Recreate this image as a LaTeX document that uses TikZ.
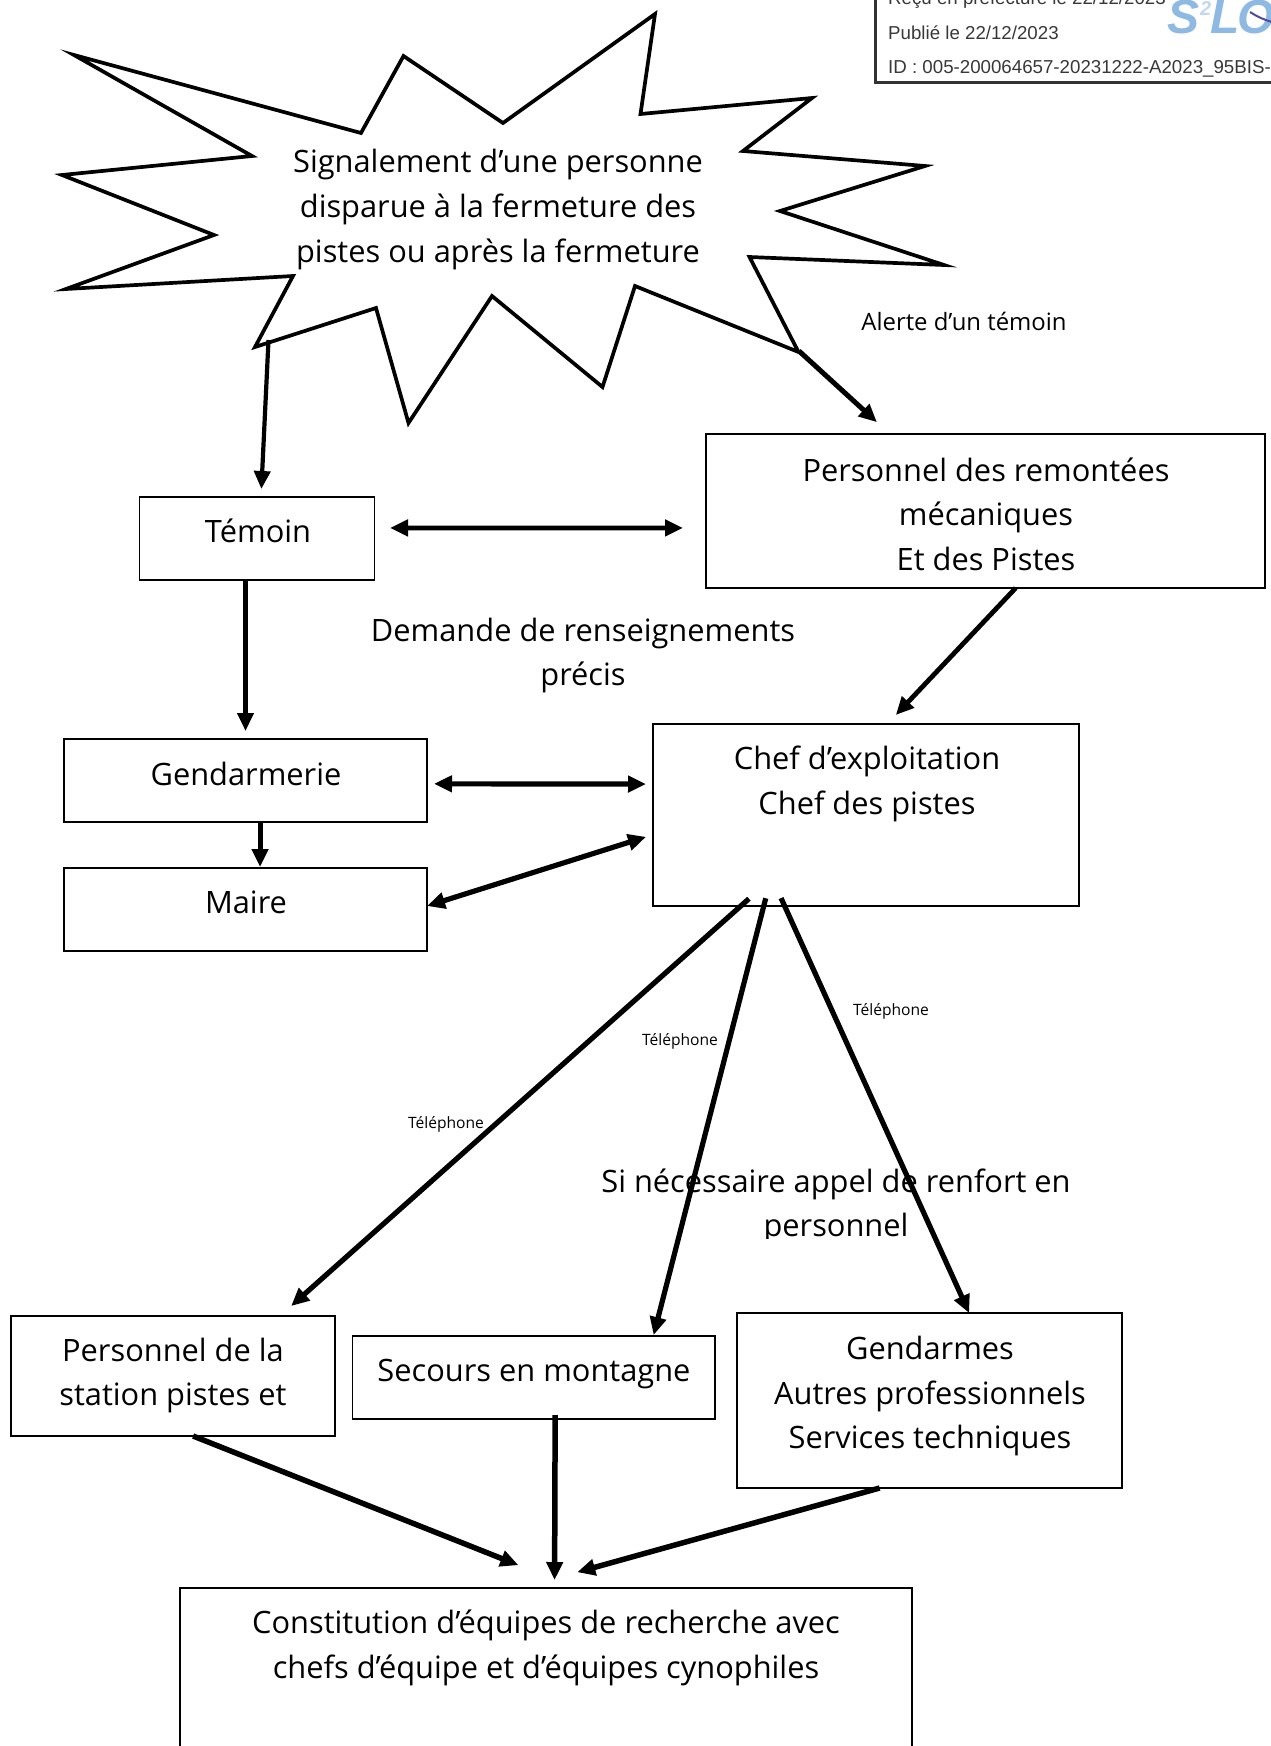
\documentclass[tikz,border=0pt]{standalone}
\usepackage{fontspec}
\setmainfont{Open Sans}
\newfontfamily\stampfont{Liberation Sans}
\usetikzlibrary{arrows.meta,calc}
\tikzset{
  boxnode/.style={draw=black,line width=1.9pt,inner sep=0pt,outer sep=0pt,anchor=north west},
  bigtext/.style={font=\fontsize{30.8}{44.6}\selectfont,align=center,inner sep=0pt},
  midtext/.style={font=\fontsize{23.9}{30}\selectfont,align=center,inner sep=0pt},
  smalltext/.style={font=\fontsize{15.6}{20}\selectfont,inner sep=0pt},
  stamp/.style={font=\stampfont\fontsize{18.7}{22}\selectfont,text=black!78,anchor=base west,inner sep=0pt},
  logotext/.style={font=\stampfont\bfseries\itshape\fontsize{#1}{#1}\selectfont,text=logoblue,anchor=base west,inner sep=0pt},
  starline/.style={draw=black,line width=3.7pt,line join=miter,miter limit=20},
  arr/.style={line width=#1,-{Stealth[length=18pt,width=16pt,inset=0pt]},draw=black},
  arr/.default=4.6pt,
  dbl/.style={line width=#1,{Stealth[length=18pt,width=16pt,inset=0pt]}-{Stealth[length=18pt,width=16pt,inset=0pt]},draw=black},
  dbl/.default=4.6pt
}
\definecolor{logoblue}{HTML}{8DB9E3}
\begin{document}
\begin{tikzpicture}[x=1pt,y=-1pt]
\useasboundingbox (0,0) rectangle (1271,1746);
\clip (0,0) rectangle (1271,1746);

% stamp
\node (stampbox) [draw=black!80,line width=3pt,inner sep=0pt,outer sep=0pt,anchor=south west,minimum width=420pt,minimum height=120pt] at (875.5,82) {};
\node (recu) [stamp] at (888,4) {Reçu en préfecture le 22/12/2023};
\node (publie) [stamp] at (888,39) {Publié le 22/12/2023};
\node (idline) [stamp] at (888,73) {ID : 005-200064657-20231222-A2023\_95BIS-};
\node (logoS) [logotext=48] at (1167,33) {S};
\node (logotwo) [logotext=20,text=logoblue!55] at (1200,15) {2};
\node (logoL) [logotext=48] at (1210,33) {L};
\node (logoO) [logotext=48] at (1237,33) {O};
\coordinate (swooshA) at (1250,12);
\coordinate (swooshB) at (1272,22);
\draw[draw=blue!45!black!70,line width=2pt] (swooshA) to[bend right=8] (swooshB);

% star
\coordinate (s1) at (74,55);
\coordinate (s2) at (361,133);
\coordinate (s3) at (403.5,56);
\coordinate (s4) at (503,123);
\coordinate (s5) at (655,14);
\coordinate (s6) at (640.5,114);
\coordinate (s7) at (812,98);
\coordinate (s8) at (743,151);
\coordinate (s9) at (925,166);
\coordinate (s10) at (780,211);
\coordinate (s11) at (944,265);
\coordinate (s12) at (749.5,257);
\coordinate (s13) at (798.5,352);
\coordinate (s14) at (635,286);
\coordinate (s15) at (602.5,387);
\coordinate (s16) at (492,296);
\coordinate (s17) at (408.5,423);
\coordinate (s18) at (376,308);
\coordinate (s19) at (255,347);
\coordinate (s20) at (293,276);
\coordinate (s21) at (66,289);
\coordinate (s22) at (214,235);
\coordinate (s23) at (62,175);
\coordinate (s24) at (252,156);
\draw[starline] (s1)--(s2)--(s3)--(s4)--(s5)--(s6)--(s7)--(s8)--(s9)--(s10)--(s11)--(s12)--(s13)--(s14)--(s15)--(s16)--(s17)--(s18)--(s19)--(s20)--(s21)--(s22)--(s23)--(s24)--cycle;
\coordinate (starL) at (268.5,340);
\coordinate (starR) at (799,351);
\node (signal) [bigtext] at (498,209.5) {Signalement d’une personne\\disparue à la fermeture des\\pistes ou après la fermeture};
\node (alerte) [midtext] at (964,321) {Alerte d’un témoin};

% boxes
\node (temoin) [boxnode,minimum width=235pt,minimum height=83pt] at (139.5,497) {};
\node (perso) [boxnode,minimum width=559pt,minimum height=154pt] at (706,434) {};
\node (gend) [boxnode,minimum width=363pt,minimum height=83pt] at (64,739) {};
\node (maire) [boxnode,minimum width=363pt,minimum height=83pt] at (64,868) {};
\node (chef) [boxnode,minimum width=426pt,minimum height=182pt] at (653,724) {};
\node (stat) [boxnode,minimum width=324pt,minimum height=120pt] at (11,1316) {};
\node (secours) [boxnode,minimum width=362.5pt,minimum height=83pt] at (352.5,1336) {};
\node (gendarmes) [boxnode,minimum width=385pt,minimum height=175pt] at (737,1313) {};
\node (constit) [boxnode,minimum width=732pt,minimum height=200pt] at (180,1588) {};

% box texts
\node (temoinT) [bigtext] at (258,531) {Témoin};
\node (persoT) [bigtext] at (986,514) {Personnel des remontées\\mécaniques\\Et des Pistes};
\node (demande) [bigtext] at (583,655.5) {Demande de renseignements\\précis};
\node (gendT) [bigtext] at (246,774) {Gendarmerie};
\node (chefT) [bigtext] at (867,784) {Chef d’exploitation\\Chef des pistes};
\node (maireT) [bigtext] at (246,902) {Maire};
\node (statT) [bigtext] at (173,1375.5) {Personnel de la\\station pistes et};
\node (secoursT) [bigtext] at (534,1374) {Secours en montagne};
\node (gendarmesT) [bigtext] at (930,1396) {Gendarmes\\Autres professionnels\\Services techniques};
\node (constitT) [bigtext] at (546,1648) {Constitution d’équipes de recherche avec\\chefs d’équipe et d’équipes cynophiles};
\begin{scope}
\clip (500,1150) rectangle (1200,1238);
\node (renfort) [bigtext] at (836,1206.5) {Si nécessaire appel de renfort en\\personnel};
\end{scope}
\node (tel1) [smalltext] at (446,1124.5) {Téléphone};
\node (tel2) [smalltext] at (680,1041.5) {Téléphone};
\node (tel3) [smalltext] at (891,1011.5) {Téléphone};

% connectors
\draw[arr=4.2pt,shorten >=8pt] (starL) -- ($(temoin.north west)!.517!(temoin.north east)$);
\draw[arr=5pt,shorten >=17.6pt] (starR) -- ($(perso.north west)!.329!(perso.north east)$);
\draw[dbl=4.8pt,shorten <=15.5pt,shorten >=23pt] ($(temoin.north east)!.373!(temoin.south east)$) -- ($(perso.north west)!.61!(perso.south west)$);
\draw[arr=4.8pt,shorten >=8pt] ($(temoin.south west)!.451!(temoin.south east)$) -- ($(gend.north west)!.5!(gend.north east)$);
\draw[arr=4.8pt,shorten >=12.4pt] ($(perso.south west)!.554!(perso.south east)$) -- ($(chef.north west)!.55!(chef.north east)$);
\draw[dbl=5.2pt,shorten <=7pt,shorten >=7pt] ($(gend.north east)!.54!(gend.south east)$) -- ($(chef.north west)!.33!(chef.south west)$);
\draw[arr=5pt,shorten >=1pt] ($(gend.south west)!.54!(gend.south east)$) -- ($(maire.north west)!.54!(maire.north east)$);
\draw[dbl=5.2pt,shorten >=7.3pt] ($(maire.north east)!.458!(maire.south east)$) -- ($(chef.north west)!.608!(chef.south west)$);
\draw[arr=5.2pt,shorten <=-11pt,shorten >=15pt] ($(chef.south west)!.206!(chef.south east)$) -- ($(stat.north west)!.83!(stat.north east)$);
\draw[arr=5.2pt,shorten <=-8pt,shorten >=1pt] ($(chef.south west)!.26!(chef.south east)$) -- ($(secours.north west)!.83!(secours.north east)$);
\draw[arr=5.2pt,shorten <=-8.7pt] ($(chef.south west)!.309!(chef.south east)$) -- ($(gendarmes.north west)!.603!(gendarmes.north east)$);
\draw[arr=5.5pt,shorten >=62pt] ($(stat.south west)!.562!(stat.south east)$) -- ($(constit.north west)!.541!(constit.north east)$);
\draw[arr=5.5pt,shorten <=-4pt,shorten >=8pt] ($(secours.south west)!.559!(secours.south east)$) -- ($(constit.north west)!.5117!(constit.north east)$);
\draw[arr=5.5pt,shorten >=59pt] ($(gendarmes.south west)!.3705!(gendarmes.south east)$) -- ($(constit.north west)!.465!(constit.north east)$);
\end{tikzpicture}
\end{document}
